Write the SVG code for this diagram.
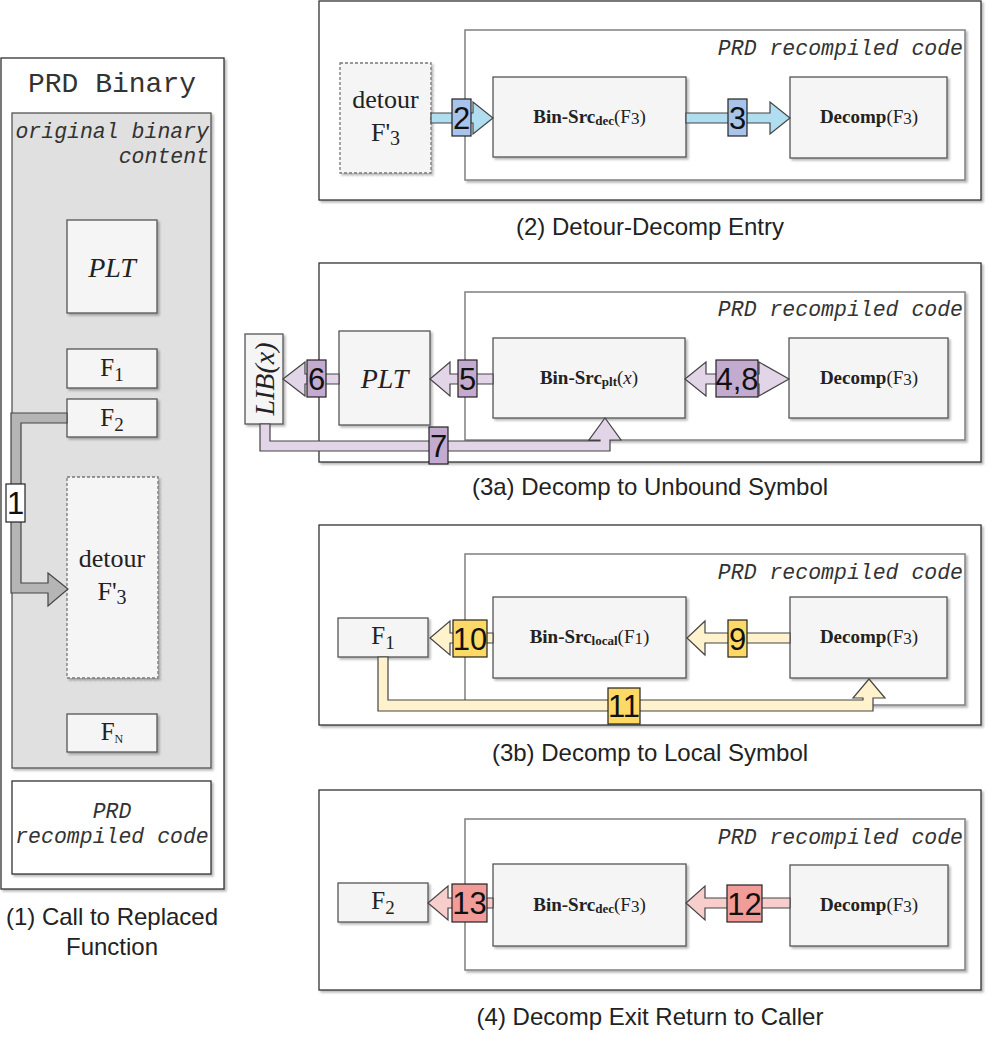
<svg xmlns="http://www.w3.org/2000/svg" width="1000" height="1060" viewBox="0 0 1000 1060">
<defs>
  <filter id="sh" x="-10%" y="-10%" width="130%" height="130%">
    <feDropShadow dx="2" dy="2" stdDeviation="1" flood-color="#000" flood-opacity="0.28"/>
  </filter>
  <style>
    .panel{fill:#fff;stroke:#333;stroke-width:1.3;filter:url(#sh)}
    .inner{fill:#fff;stroke:#888;stroke-width:1.6;filter:url(#sh)}
    .gray{fill:#e0e0e0;stroke:#555;stroke-width:1.3;filter:url(#sh)}
    .box{fill:#f5f5f5;stroke:#555;stroke-width:1.3;filter:url(#sh)}
    .dbox{fill:#f5f5f5;stroke:#777;stroke-width:1.3;stroke-dasharray:3 2;filter:url(#sh)}
    .mono{font-family:"Liberation Mono",monospace;fill:#333}
    .it{font-style:italic}
    .serif{font-family:"Liberation Serif",serif;fill:#222}
    .bold{font-weight:bold}
    .cap{font-family:"Liberation Sans",Arial,sans-serif;font-size:24px;fill:#222;text-anchor:middle}
    .lbl{font-family:"Liberation Sans",Arial,sans-serif;font-size:31px;fill:#111;text-anchor:middle}
    .ar{stroke:#444;stroke-width:1.2;stroke-linejoin:miter}
    .blue{fill:#b1ddf0}.blueL{fill:#a9c4eb}
    .purp{fill:#e1d5e7}.purpL{fill:#c3abd0}
    .yel{fill:#fff2cc}.yelL{fill:#ffd966}
    .red{fill:#f8cecc}.redL{fill:#f19c99}
    .lb{stroke:#222;stroke-width:1.2}
  </style>
</defs>

<!-- Panel 1 -->
<g id="panel1">
  <rect class="panel" x="1" y="58" width="223" height="831"/>
  <text class="mono" x="112" y="92" font-size="28" text-anchor="middle">PRD Binary</text>
  <rect class="gray" x="12" y="113" width="199" height="655"/>
  <text class="mono it" x="209" y="138" font-size="21.5" text-anchor="end">original binary</text>
  <text class="mono it" x="209" y="163" font-size="21.5" text-anchor="end">content</text>
</g>
<g id="p1-plt">
  <rect class="box" x="67" y="220" width="90" height="93"/>
  <text class="serif it" x="112" y="277" font-size="28" text-anchor="middle">PLT</text>
</g>
<g id="p1-f1">
  <rect class="box" x="67" y="349" width="90" height="39"/>
  <text class="serif" x="112" y="376" font-size="25" text-anchor="middle">F<tspan font-size="19" dy="5">1</tspan></text>
</g>
<g id="p1-f2">
  <rect class="box" x="67" y="399" width="90" height="38"/>
  <text class="serif" x="112" y="426" font-size="25" text-anchor="middle">F<tspan font-size="19" dy="5">2</tspan></text>
</g>
<g id="p1-detour">
  <rect class="dbox" x="67" y="477" width="91" height="201"/>
  <text class="serif" x="112" y="567" font-size="26" text-anchor="middle">detour</text>
  <text class="serif" x="112" y="600" font-size="26" text-anchor="middle">F'<tspan font-size="20" dy="4">3</tspan></text>
</g>
<g id="p1-fn">
  <rect class="box" x="67" y="714" width="90" height="38"/>
  <text class="serif" x="112" y="740" font-size="25" text-anchor="middle">F<tspan font-size="12" dy="3">N</tspan></text>
</g>
<g id="p1-prd">
  <rect class="panel" x="12" y="781" width="199" height="93"/>
  <text class="mono it" x="112" y="818" font-size="21.5" text-anchor="middle">PRD</text>
  <text class="mono it" x="112" y="843" font-size="21.5" text-anchor="middle">recompiled code</text>
</g>
<text class="cap" x="112" y="925">(1) Call to Replaced</text>
<text class="cap" x="112" y="955">Function</text>

<!-- Panel 2 -->
<g id="panel2">
  <rect class="panel" x="319" y="1" width="662" height="199"/>
  <rect class="inner" x="465" y="30" width="500" height="150"/>
  <text class="mono it" x="963" y="55" font-size="21.5" text-anchor="end">PRD recompiled code</text>
</g>
<g id="p2-detour">
  <rect class="dbox" x="340" y="63" width="91" height="110"/>
  <text class="serif" x="385.5" y="108" font-size="26" text-anchor="middle">detour</text>
  <text class="serif" x="385.5" y="141" font-size="26" text-anchor="middle">F'<tspan font-size="20" dy="4">3</tspan></text>
</g>
<g id="p2-binsrc">
  <rect class="box" x="493" y="77" width="193" height="80"/>
  <text class="serif" x="589.5" y="123" font-size="19" text-anchor="middle"><tspan class="bold">Bin-Src</tspan><tspan class="bold" font-size="13" dy="2">dec</tspan><tspan dy="-2">(F</tspan><tspan font-size="17" dy="1">3</tspan><tspan dy="-1">)</tspan></text>
</g>
<g id="p2-decomp">
  <rect class="box" x="790" y="77" width="157" height="81"/>
  <text class="serif" x="869" y="123" font-size="19" text-anchor="middle"><tspan class="bold">Decomp</tspan>(F<tspan font-size="17" dy="1">3</tspan><tspan dy="-1">)</tspan></text>
</g>
<text class="cap" x="650" y="235">(2) Detour-Decomp Entry</text>

<!-- Panel 3a -->
<g id="panel3a">
  <rect class="panel" x="319" y="263" width="662" height="199"/>
  <rect class="inner" x="465" y="292" width="500" height="148"/>
  <text class="mono it" x="963" y="316" font-size="21.5" text-anchor="end">PRD recompiled code</text>
</g>
<g id="p3a-lib">
  <rect class="box" x="245" y="334" width="38" height="90"/>
  <text class="serif it" transform="translate(274,379) rotate(-90)" x="0" y="0" font-size="28" text-anchor="middle">LIB(x)</text>
</g>
<g id="p3a-plt">
  <rect class="box" x="339" y="331" width="91" height="94"/>
  <text class="serif it" x="384.5" y="388" font-size="28" text-anchor="middle">PLT</text>
</g>
<g id="p3a-binsrc">
  <rect class="box" x="493" y="338" width="192" height="80"/>
  <text class="serif" x="589" y="384" font-size="19" text-anchor="middle"><tspan class="bold">Bin-Src</tspan><tspan class="bold" font-size="13" dy="2">plt</tspan><tspan dy="-2">(</tspan><tspan font-style="italic">x</tspan>)</text>
</g>
<g id="p3a-decomp">
  <rect class="box" x="789" y="338" width="159" height="80"/>
  <text class="serif" x="869" y="384" font-size="19" text-anchor="middle"><tspan class="bold">Decomp</tspan>(F<tspan font-size="17" dy="1">3</tspan><tspan dy="-1">)</tspan></text>
</g>
<text class="cap" x="650" y="495">(3a) Decomp to Unbound Symbol</text>

<!-- Panel 3b -->
<g id="panel3b">
  <rect class="panel" x="319" y="525" width="662" height="200"/>
  <rect class="inner" x="465" y="554" width="500" height="151"/>
  <text class="mono it" x="963" y="579" font-size="21.5" text-anchor="end">PRD recompiled code</text>
</g>
<g id="p3b-f1">
  <rect class="box" x="338" y="618" width="90" height="39"/>
  <text class="serif" x="383" y="644" font-size="25" text-anchor="middle">F<tspan font-size="19" dy="5">1</tspan></text>
</g>
<g id="p3b-binsrc">
  <rect class="box" x="493" y="597" width="193" height="81"/>
  <text class="serif" x="589.5" y="643" font-size="19" text-anchor="middle"><tspan class="bold">Bin-Src</tspan><tspan class="bold" font-size="13" dy="2">local</tspan><tspan dy="-2">(F</tspan><tspan font-size="17" dy="1">1</tspan><tspan dy="-1">)</tspan></text>
</g>
<g id="p3b-decomp">
  <rect class="box" x="790" y="597" width="157" height="81"/>
  <text class="serif" x="869" y="643" font-size="19" text-anchor="middle"><tspan class="bold">Decomp</tspan>(F<tspan font-size="17" dy="1">3</tspan><tspan dy="-1">)</tspan></text>
</g>
<text class="cap" x="650" y="761">(3b) Decomp to Local Symbol</text>

<!-- Panel 4 -->
<g id="panel4">
  <rect class="panel" x="319" y="790" width="662" height="200"/>
  <rect class="inner" x="465" y="819" width="500" height="151"/>
  <text class="mono it" x="963" y="844" font-size="21.5" text-anchor="end">PRD recompiled code</text>
</g>
<g id="p4-f2">
  <rect class="box" x="338" y="883" width="90" height="39"/>
  <text class="serif" x="383" y="909" font-size="25" text-anchor="middle">F<tspan font-size="19" dy="5">2</tspan></text>
</g>
<g id="p4-binsrc">
  <rect class="box" x="493" y="864" width="193" height="82"/>
  <text class="serif" x="589.5" y="911" font-size="19" text-anchor="middle"><tspan class="bold">Bin-Src</tspan><tspan class="bold" font-size="13" dy="2">dec</tspan><tspan dy="-2">(F</tspan><tspan font-size="17" dy="1">3</tspan><tspan dy="-1">)</tspan></text>
</g>
<g id="p4-decomp">
  <rect class="box" x="790" y="865" width="158" height="81"/>
  <text class="serif" x="869" y="911" font-size="19" text-anchor="middle"><tspan class="bold">Decomp</tspan>(F<tspan font-size="17" dy="1">3</tspan><tspan dy="-1">)</tspan></text>
</g>
<text class="cap" x="650" y="1025">(4) Decomp Exit Return to Caller</text>

<!-- Connectors -->
<g id="connectors">
  <!-- 1 -->
  <path class="ar" fill="#b5b5b5" d="M67,413 H11 V593 H48 V606 L68,589 L48,573 V583 H21 V423 H67 Z"/>
  <rect x="6" y="484" width="19" height="38" fill="#fff" class="lb"/>
  <text class="lbl" x="15.5" y="514">1</text>

  <!-- 2 -->
  <polygon class="ar blue" points="431,113 473,113 473,102 493,118 473,134 473,123 431,123"/>
  <rect class="blueL lb" x="452" y="99" width="19" height="37"/>
  <text class="lbl" x="461.5" y="129">2</text>
  <!-- 3 -->
  <polygon class="ar blue" points="686,113 770,113 770,102 790,118 770,134 770,123 686,123"/>
  <rect class="blueL lb" x="728" y="99" width="19" height="37"/>
  <text class="lbl" x="737.5" y="129">3</text>

  <!-- 4,8 -->
  <polygon class="ar purp" points="685,379 706,362 706,374 759,374 759,362 789,379 759,396 759,384 706,384 706,396"/>
  <rect class="purpL lb" x="716" y="360" width="42" height="37"/>
  <text class="lbl" x="737" y="390">4,8</text>
  <!-- 5 -->
  <polygon class="ar purp" points="493,374 450,374 450,362 430,379 450,396 450,384 493,384"/>
  <rect class="purpL lb" x="458" y="360" width="19" height="37"/>
  <text class="lbl" x="467.5" y="390">5</text>
  <!-- 6 -->
  <polygon class="ar purp" points="339,374 305,374 305,362 283,379 305,396 305,384 339,384"/>
  <rect class="purpL lb" x="307" y="360" width="19" height="37"/>
  <text class="lbl" x="316.5" y="390">6</text>
  <!-- 7 -->
  <path class="ar purp" d="M260,424 V451 H610 V440 H621 L605,418 L589,440 H600 V441 H270 V424 Z"/>
  <rect class="purpL lb" x="429" y="427" width="19" height="37"/>
  <text class="lbl" x="438.5" y="457">7</text>

  <!-- 9 -->
  <polygon class="ar yel" points="790,633 705,633 705,621 687,638 705,655 705,643 790,643"/>
  <rect class="yelL lb" x="728" y="620" width="19" height="37"/>
  <text class="lbl" x="737.5" y="650">9</text>
  <!-- 10 -->
  <polygon class="ar yel" points="493,633 450,633 450,621 430,638 450,655 450,643 493,643"/>
  <rect class="yelL lb" x="453" y="620" width="34" height="37"/>
  <text class="lbl" x="470" y="650">10</text>
  <!-- 11 -->
  <path class="ar yel" d="M378,657 V711 H873 V698 H885 L869,679 L853,698 H863 V700 H388 V657 Z"/>
  <rect class="yelL lb" x="608" y="688" width="32" height="36"/>
  <text class="lbl" x="624" y="717">11</text>

  <!-- 12 -->
  <polygon class="ar red" points="790,898 705,898 705,886 686,903 705,920 705,908 790,908"/>
  <rect class="redL lb" x="727" y="885" width="35" height="37"/>
  <text class="lbl" x="744.5" y="915">12</text>
  <!-- 13 -->
  <polygon class="ar red" points="493,898 448,898 448,886 428,903 448,920 448,908 493,908"/>
  <rect class="redL lb" x="452" y="884" width="35" height="38"/>
  <text class="lbl" x="469.5" y="914">13</text>
</g>
</svg>
